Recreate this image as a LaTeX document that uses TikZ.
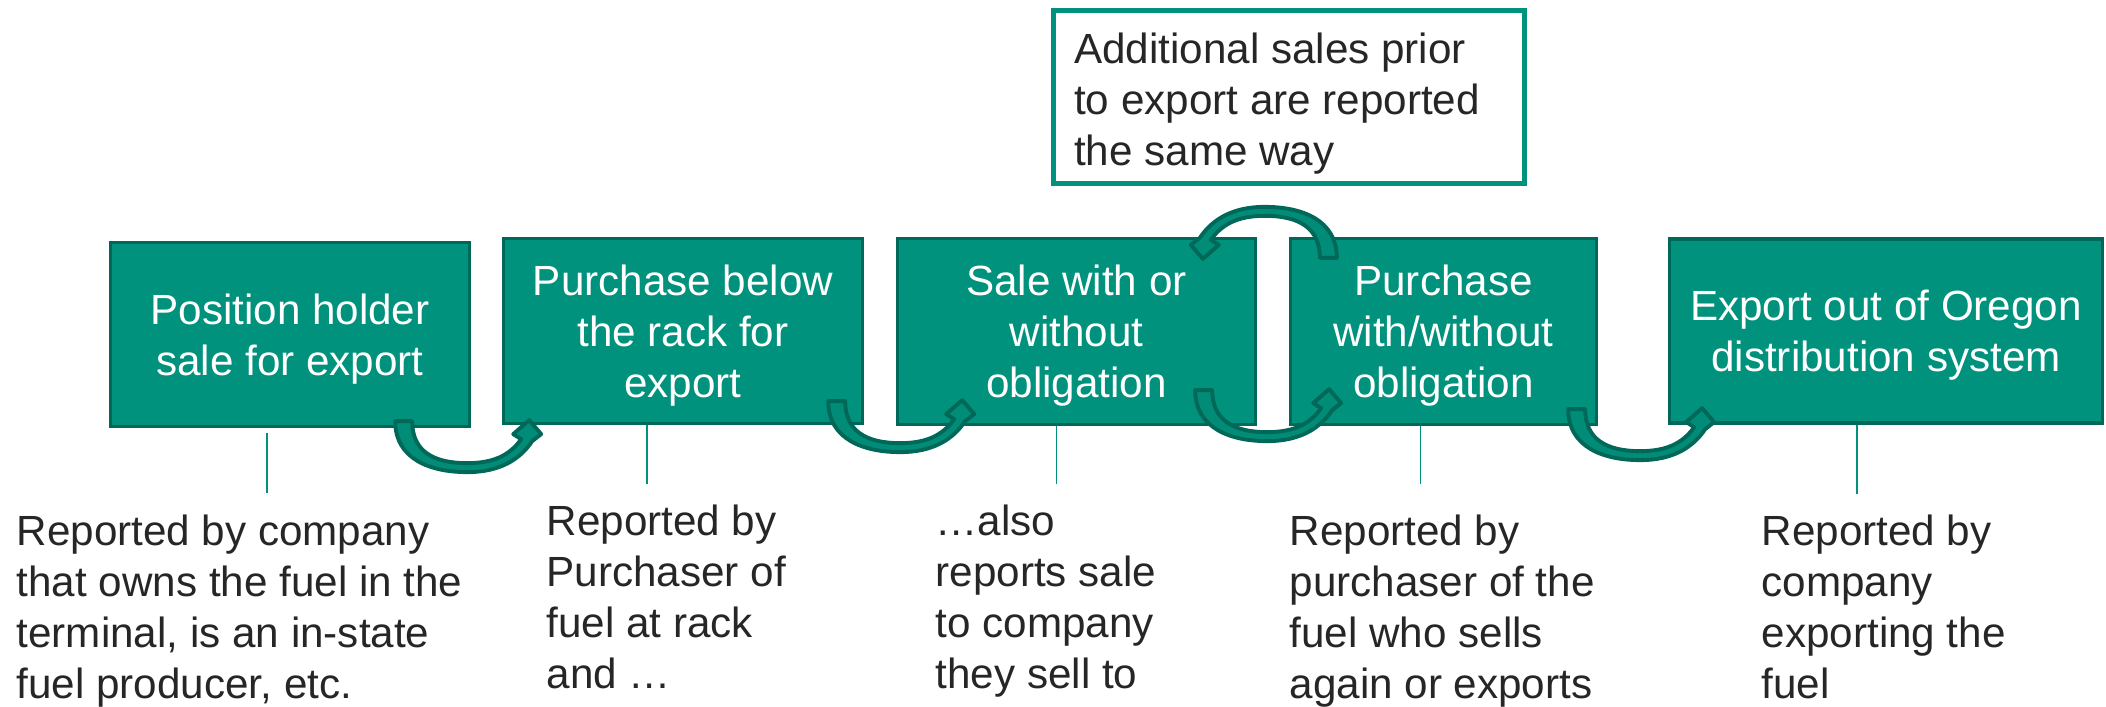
\documentclass[tikz,border=0pt]{standalone}
\usepackage{fontspec}
\setmainfont{Liberation Sans}
\usetikzlibrary{calc}
\definecolor{boxteal}{RGB}{0,146,124}
\definecolor{edgeteal}{RGB}{0,104,88}
\definecolor{inkgray}{RGB}{38,38,38}
\tikzset{
  stepbox/.style  = {rectangle, draw=edgeteal, fill=boxteal, line width=0.9pt,
                     text=white, align=center, inner sep=0pt, text depth=0pt,
                     font=\fontsize{12}{14.5}\selectfont},
  notebox/.style  = {rectangle, draw=boxteal, fill=white, line width=1.4pt,
                     minimum width=4.71cm, minimum height=1.73cm},
  report/.style   = {anchor=north west, inner sep=0pt, text=inkgray, align=left,
                     font=\fontsize{12}{14.5}\selectfont},
  leader/.style   = {draw=boxteal, line width=0.45pt},
  bendbody/.style = {fill=boxteal!85!edgeteal, draw=edgeteal, line width=1.1pt,
                     line join=round},
}
% bent block arrow; #1 = outer corner of the tail, #2 = rotation
\newcommand{\bendarrow}[2]{%
  \begin{scope}[shift={#1}, rotate=#2]
    \filldraw[bendbody] (0,0) .. controls (0,38) and (35,51) .. (72,51)
      .. controls (105,51) and (125,38) .. (137,20)
      -- (146,13) -- (134,-1) -- (118,13) -- (126,18)
      .. controls (114,35) and (97,42) .. (72,42)
      .. controls (38,42) and (17,30) .. (17,0) -- cycle;
  \end{scope}}

\begin{document}
\begin{tikzpicture}[x=0.01cm, y=-0.01cm]
  \useasboundingbox (0,0) rectangle (2106,707);

  % the chain of transactions
  \node[stepbox, minimum width=3.59cm, minimum height=1.84cm] (b1) at (290,334.5)
       {Position holder\\sale for export};
  \node[stepbox, minimum width=3.59cm, minimum height=1.85cm] (b2) at (683,331)
       {Purchase below\\the rack for\\export};
  \node[stepbox, minimum width=3.58cm, minimum height=1.86cm] (b3) at (1076.5,331.5)
       {Sale with or\\without\\obligation};
  \node[stepbox, minimum width=3.06cm, minimum height=1.86cm] (b4) at (1443.5,331.5)
       {Purchase\\with/without\\obligation};
  \node[stepbox, minimum width=4.33cm, minimum height=1.84cm] (b5) at (1886,331)
       {Export out of Oregon\\distribution system};

  \node[notebox] (extra) at (1289,97) {};
  \node[report] (extratext) at ($(extra.north west)+(22.5,24.5)$)
       {Additional sales prior\\to export are reported\\the same way};

  % who reports each step
  \node[report] (r1) at (16,514)
       {Reported by company\\that owns the fuel in the\\terminal, is an in-state\\fuel producer, etc.};
  \node[report] (r2) at (546,504)
       {Reported by\\Purchaser of\\fuel at rack\\and …};
  \node[report] (r3) at (935,504)
       {…also\\reports sale\\to company\\they sell to};
  \node[report] (r4) at (1289,514)
       {Reported by\\purchaser of the\\fuel who sells\\again or exports};
  \node[report] (r5) at (1761,514)
       {Reported by\\company\\exporting the\\fuel};

  \draw[leader] ($(b1.south)+(-23,5)$) -- ++(0,60);
  \draw[leader] ($(b2.south)+(-36,0)$) -- ++(0,59);
  \draw[leader] ($(b3.south)+(-20,0)$) -- ++(0,58);
  \draw[leader] ($(b4.south)+(-23,0)$) -- ++(0,58);
  \draw[leader] ($(b5.south)+(-29,0)$) -- ++(0,69);

  \bendarrow{($(b1.south east)+(-76,-7)$)}{0}
  \bendarrow{($(b2.south east)+(-36,-24)$)}{0}
  \bendarrow{($(b3.south east)+(-62,-36)$)}{0}
  \bendarrow{($(b4.south east)+(-30,-17)$)}{0}
  \bendarrow{($(b4.north west)+(48,21)$)}{180}
\end{tikzpicture}
\end{document}
